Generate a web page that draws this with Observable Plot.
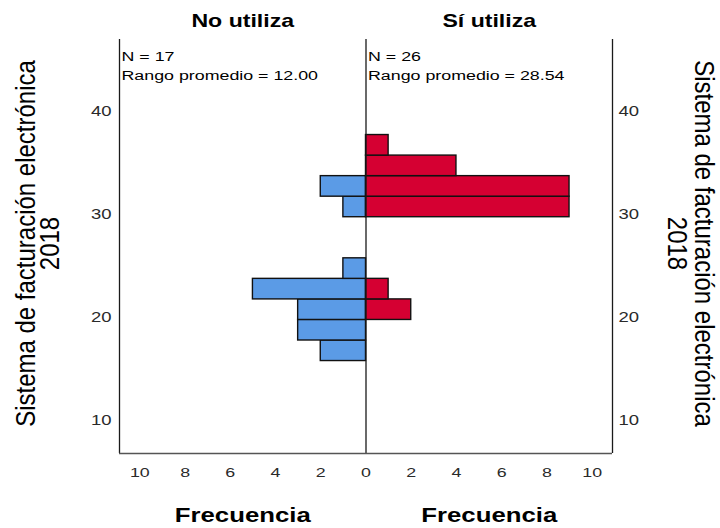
<!DOCTYPE html>
<html>
<head>
<meta charset="utf-8">
<script src="https://cdn.jsdelivr.net/npm/d3@7"></script>
<script src="https://cdn.jsdelivr.net/npm/@observablehq/plot@0.6"></script>
<style>
  html, body { margin: 0; padding: 0; background: #fff; }
</style>
</head>
<body>
<div id="chart"></div>
<script>
// ---- data ----
const groups = ["No utiliza", "Sí utiliza"];
const binStarts = [16, 18, 20, 22, 24, 26, 28, 30, 32, 34, 36];
const binWidth = 2;
const countsNo = [2, 3, 3, 5, 1, 0, 0, 1, 2, 0, 0];
const countsSi = [0, 0, 2, 1, 0, 0, 0, 9, 9, 4, 1];
const nValues = [17, 26];
const meanRanks = ["12.00", "28.54"];
const xTicks = [-10, -8, -6, -4, -2, 0, 2, 4, 6, 8, 10];
const yTicks = [10, 20, 30, 40];
const xLabel = "Frecuencia";
const yLabel = "Sistema de facturación electrónica\n2018";
const colors = ["#5b9be6", "#d50032"];
const xDomain = [-10.9, 10.9];
const yDomain = [7, 47.3];

// table for the library
const rows = [];
binStarts.forEach((b, i) => {
  if (countsNo[i] > 0) rows.push({group: groups[0], y1: b, y2: b + binWidth, x: -countsNo[i]});
  if (countsSi[i] > 0) rows.push({group: groups[1], y1: b, y2: b + binWidth, x: countsSi[i]});
});
const sideX = (d, i) => (i === 0 ? xDomain[0] : xDomain[1]) / 2;

const font = "'Liberation Sans', Arial, Helvetica, sans-serif";

const svg = Plot.plot({
  width: 720,
  height: 528,
  marginLeft: 119,
  marginRight: 108,
  marginTop: 39,
  marginBottom: 75,
  style: {fontFamily: font, fontSize: "14px", color: "#000", background: "#fff", overflow: "visible"},
  x: {domain: xDomain},
  y: {domain: yDomain},
  color: {domain: groups, range: colors},
  marks: [
    Plot.rect(rows, {x1: 0, x2: "x", y1: "y1", y2: "y2", fill: "group", stroke: "#111", strokeWidth: 1.4}),
    Plot.ruleX([xDomain[0], 0, xDomain[1]], {stroke: "#1a1a1a", strokeWidth: 1.3}),
    Plot.ruleY([yDomain[0]], {stroke: "#555", strokeWidth: 1.4}),
    Plot.axisX({ticks: xTicks, tickFormat: d => Math.abs(d), tickSize: 0, tickPadding: 15.5, label: null, fontSize: 13.5, fill: "#2a2a2a", dy: 8}),
    Plot.axisY({anchor: "left", ticks: yTicks, tickSize: 0, tickPadding: 8, label: null, fontSize: 14, fill: "#2a2a2a", dy: 2}),
    Plot.axisY({anchor: "right", ticks: yTicks, tickSize: 0, tickPadding: 6, label: null, fontSize: 14, fill: "#2a2a2a", dy: 2}),
    // panel titles
    Plot.text(groups, {x: sideX, text: d => d, frameAnchor: "top", dy: -13, fontWeight: "bold", fontSize: 17.5, fill: "#000"}),
    // N and mean rank
    Plot.text(groups, {
      x: (d, i) => (i === 0 ? xDomain[0] : 0),
      text: (d, i) => `N = ${nValues[i]}\nRango promedio = ${meanRanks[i]}`,
      frameAnchor: "top", textAnchor: "start", lineAnchor: "top",
      dx: 2, dy: 7.8, fontSize: 13.5, lineHeight: 1.41, fill: "#000"
    }),
    // x axis labels
    Plot.text(groups, {x: sideX, text: () => xLabel, frameAnchor: "bottom", dy: 68.5, fontWeight: "bold", fontSize: 19.5, fill: "#000"}),
    // y axis labels (left and right)
    Plot.text([yLabel], {text: d => d, frameAnchor: "left", textAnchor: "middle", lineAnchor: "middle", rotate: -90, dx: -80.5, dy: -3, fontSize: 24, lineHeight: 0.92, fill: "#000"}),
    Plot.text([yLabel], {text: d => d, frameAnchor: "right", textAnchor: "middle", lineAnchor: "middle", rotate: 90, dx: 77.5, dy: -3, fontSize: 24, lineHeight: 1.0, fill: "#000"})
  ]
});

// the reference's glyphs are drawn widened horizontally
const stretch = 1.32;      // horizontal texts
const thick = 1.12;        // rotated labels (across their baseline)
const yLabelStart = yLabel.split("\n")[0];
svg.querySelectorAll("text").forEach(t => {
  const vertical = t.textContent.includes(yLabelStart);
  let tr = t.getAttribute("transform") || "";
  const x = t.getAttribute("x"), y = t.getAttribute("y");
  if (x != null || y != null) {
    tr += ` translate(${+x || 0},${+y || 0})`;
    t.removeAttribute("x");
    t.removeAttribute("y");
  }
  t.setAttribute("transform", tr + (vertical ? ` scale(1,${thick})` : ` scale(${stretch},1)`));
});

document.getElementById("chart").appendChild(svg);
</script>
</body>
</html>
